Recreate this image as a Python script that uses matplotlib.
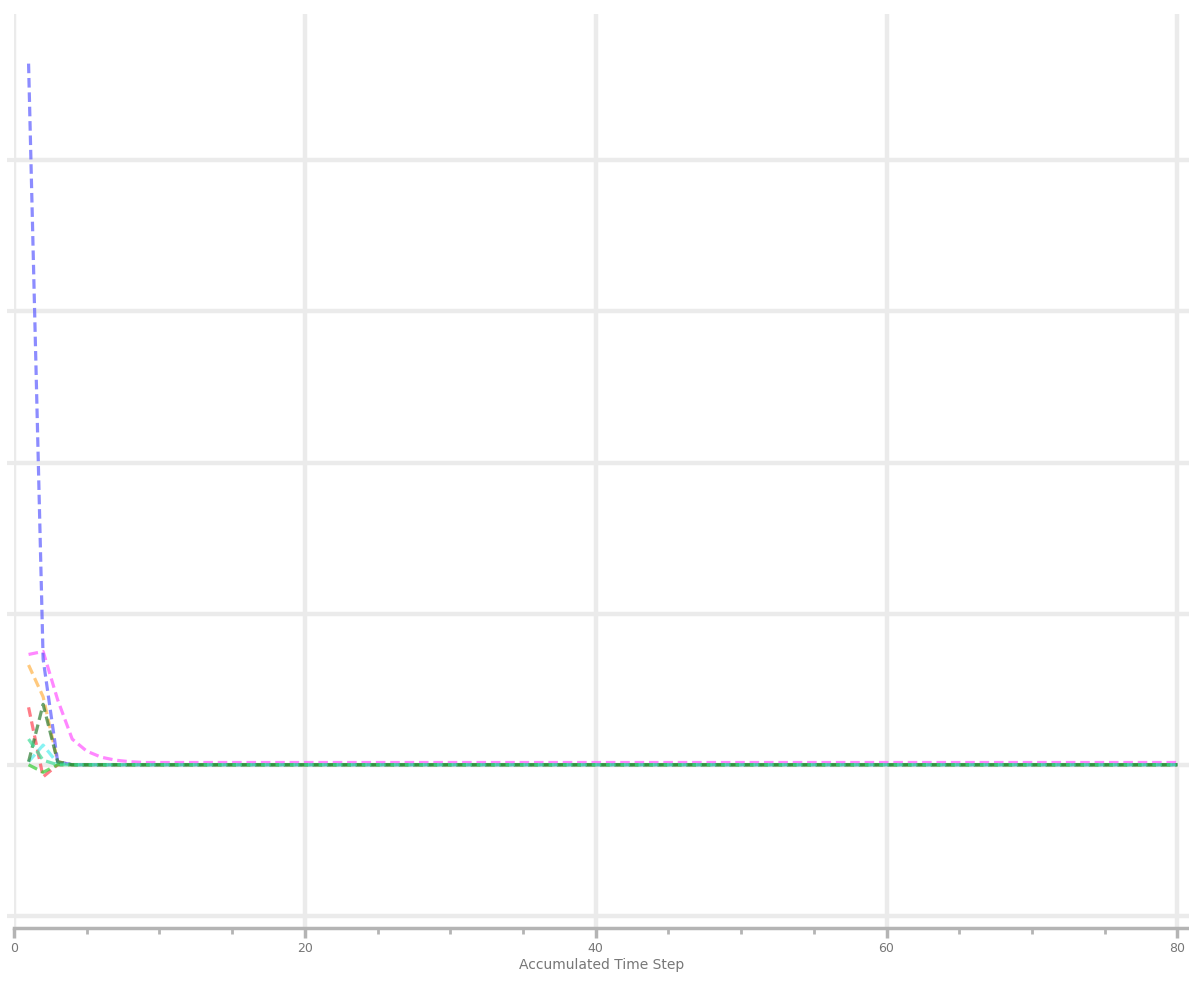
import matplotlib
matplotlib.use("Agg")
import matplotlib.pyplot as plt
from matplotlib.ticker import MultipleLocator

# accumulated time steps 1..80
steps = list(range(1, 81))

# series values (flat tails are ~0)
blue = [4.64, 0.70, 0.02] + [0.0] * 77
magenta = [0.73, 0.75, 0.43, 0.17, 0.09, 0.05, 0.03, 0.02] + [0.015] * 72
orange = [0.66, 0.45, 0.02] + [0.0] * 77
red = [0.38, -0.08, 0.0] + [0.0] * 77
darkgreen = [0.02, 0.40, 0.02] + [0.0] * 77
green = [0.0, -0.05, 0.0] + [0.0] * 77
cyan = [0.02, 0.13, 0.01] + [0.0] * 77
teal = [0.17, 0.03, 0.0] + [0.0] * 77

series = [
    (magenta, '#ff55ff'),
    (orange, '#ffb347'),
    (red, '#ff4455'),
    (blue, '#5c5cff'),
    (cyan, '#55eeee'),
    (green, '#33cc33'),
    (darkgreen, '#2e7d32'),
    (teal, '#3ddc97'),
]

xticks = [0, 20, 40, 60, 80]

fig = plt.figure(figsize=(11.89, 9.83), dpi=100)
ax = fig.add_axes([0.0118, 0.056, 0.9882, 0.930])

for vals, col in series:
    ax.plot(steps, vals, color=col, lw=2.3, alpha=0.7,
            linestyle=(0, (3, 1.5)), solid_capstyle='butt')

ax.set_xlim(0, 80.8)
ax.set_ylim(-1.08, 4.97)

ax.xaxis.set_major_locator(MultipleLocator(20))
ax.xaxis.set_minor_locator(MultipleLocator(5))
ax.set_xticks(xticks)
ax.set_xticklabels([str(t) for t in xticks])
ax.yaxis.set_major_locator(MultipleLocator(1))
ax.set_yticklabels([])

ax.grid(True, which='major', color='#ebebeb', lw=3.2, zorder=0)
ax.set_axisbelow(True)

for s in ['top', 'right', 'left']:
    ax.spines[s].set_visible(False)
ax.spines['bottom'].set_color('#b4b4b4')
ax.spines['bottom'].set_linewidth(2.5)

ax.tick_params(axis='x', which='major', length=7, width=2.5, color='#b4b4b4',
               labelsize=9, labelcolor='#777777', pad=3)
ax.tick_params(axis='x', which='minor', length=4, width=2, color='#b4b4b4')
ax.tick_params(axis='y', which='major', length=5, width=3, color='#ebebeb')

ax.set_xlabel('Accumulated Time Step', fontsize=10, color='#777777', labelpad=2)

fig.savefig('out.png', dpi=100)
